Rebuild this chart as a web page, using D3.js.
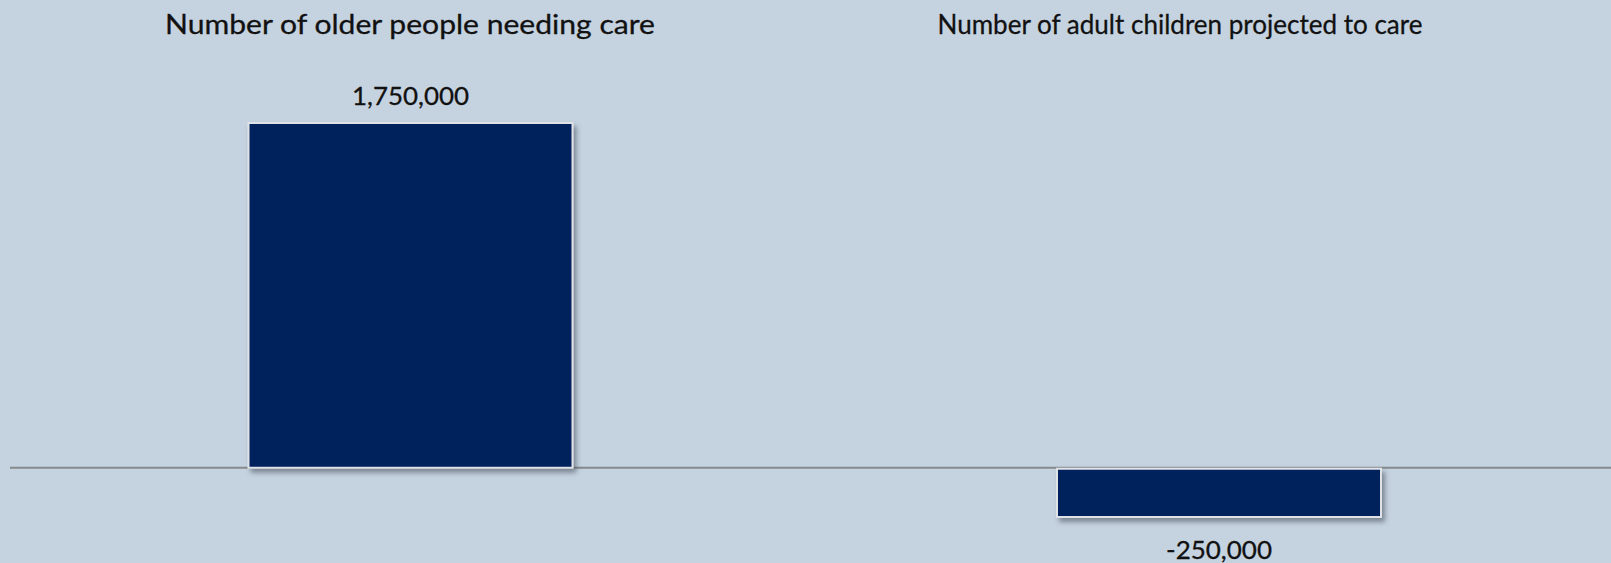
<!DOCTYPE html>
<html>
<head>
<meta charset="utf-8">
<script src="https://cdn.jsdelivr.net/npm/d3@7"></script>
<style>
  html, body { margin: 0; padding: 0; background: #c5d3e0; }
  svg { display: block; font-family: Lato, "Open Sans", sans-serif; }
</style>
</head>
<body>
<svg id="chart" width="1611" height="563"></svg>
<script>
// data
var categories = ["Number of older people needing care", "Number of adult children projected to care"];
var values = [1750000, -250000];

var width = 1611, height = 563;
var svg = d3.select("#chart");

svg.append("rect").attr("width", width).attr("height", height).attr("fill", "#c5d3e0");

// drop shadow for the bars
var defs = svg.append("defs");
var f = defs.append("filter").attr("id", "shadow")
  .attr("x", "-10%").attr("y", "-10%").attr("width", "130%").attr("height", "130%");
f.append("feDropShadow")
  .attr("dx", 3).attr("dy", 4).attr("stdDeviation", 2.5)
  .attr("flood-color", "#404a55").attr("flood-opacity", 0.55);

var x = d3.scalePoint()
  .domain(categories)
  .range([410.5, 1219]);

var y = d3.scaleLinear()
  .domain([-250000, 1750000])
  .range([517, 123]);

var barW = 324;
// plain hyphen for negatives, like the original
var fmt = d3.formatLocale({decimal: ".", thousands: ",", grouping: [3], currency: ["", ""], minus: "-"}).format(",");

// baseline
svg.append("line")
  .attr("x1", 10).attr("x2", width)
  .attr("y1", y(0)).attr("y2", y(0))
  .attr("stroke", "#878a8d").attr("stroke-width", 2);

// bars
svg.selectAll(".bar")
  .data(values)
  .enter().append("rect")
  .attr("class", "bar")
  .attr("x", function(d, i) { return x(categories[i]) - barW / 2; })
  .attr("y", function(d) { return d >= 0 ? y(d) : y(0) + 1; })
  .attr("width", barW)
  .attr("height", function(d) { return d >= 0 ? y(0) - y(d) : y(d) - y(0) - 1; })
  .attr("fill", "#00205c")
  .attr("stroke", "#dfe3e8")
  .attr("stroke-width", 2)
  .attr("filter", "url(#shadow)");

// value labels
var labelW = [117, 106];
svg.selectAll(".val")
  .data(values)
  .enter().append("text")
  .attr("class", "val")
  .attr("x", function(d, i) { return x(categories[i]); })
  .attr("y", function(d) { return d >= 0 ? y(d) - 18 : y(d) + 42; })
  .attr("text-anchor", "middle")
  .attr("font-size", 25)
  .attr("fill", "#111")
  .attr("stroke", "#111").attr("stroke-width", 0.3)
  .attr("textLength", function(d, i) { return labelW[i]; })
  .attr("lengthAdjust", "spacingAndGlyphs")
  .text(function(d) { return fmt(d); });

// titles above each bar
var titleX = [410, 1180];
var titleW = [490, 485];
svg.selectAll(".title")
  .data(categories)
  .enter().append("text")
  .attr("class", "title")
  .attr("x", function(d, i) { return titleX[i]; })
  .attr("y", 34)
  .attr("text-anchor", "middle")
  .attr("font-size", 27)
  .attr("fill", "#111")
  .attr("stroke", "#111").attr("stroke-width", 0.3)
  .attr("textLength", function(d, i) { return titleW[i]; })
  .attr("lengthAdjust", "spacingAndGlyphs")
  .text(function(d) { return d; });
</script>
</body>
</html>
